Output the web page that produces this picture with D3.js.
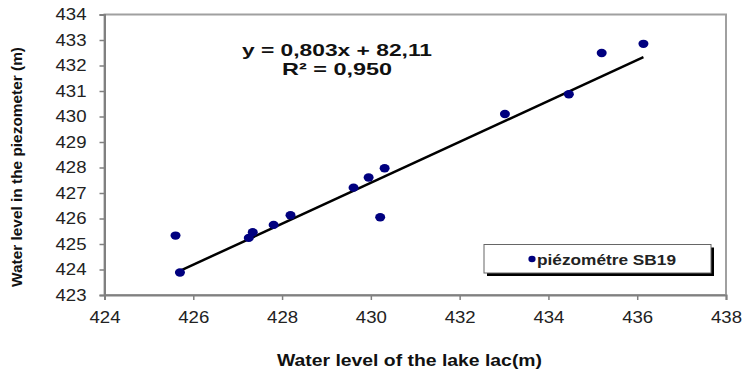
<!DOCTYPE html>
<html>
<head>
<meta charset="utf-8">
<script src="https://cdn.jsdelivr.net/npm/d3@7"></script>
<style>
  body { margin: 0; background: #fff; }
  text { font-family: "Liberation Sans", Arial, sans-serif; }
</style>
</head>
<body>
<div id="chart"></div>
<script>
// lake level vs piezometer level, station SB19
const lakeLevel  = [425.60, 425.70, 427.25, 427.34, 427.81, 428.19, 429.61, 429.95, 430.31, 430.21, 433.02, 434.46, 435.20, 436.14];
const piezoLevel = [425.33, 423.88, 425.24, 425.46, 425.75, 426.13, 427.21, 427.61, 427.97, 426.05, 430.10, 430.87, 432.49, 432.85];
const xTicks = [424, 426, 428, 430, 432, 434, 436, 438];
const yTicks = [423, 424, 425, 426, 427, 428, 429, 430, 431, 432, 433, 434];
const slope = 0.803;
const intercept = 82.11;
const equationLabel = "y = 0,803x + 82,11";
const r2Label = "R² = 0,950";
const seriesName = "piézométre SB19";

const width = 742, height = 372;
const margin = {left: 104.5, right: 16, top: 14.5, bottom: 77};

const svg = d3.select("#chart")
    .append("svg")
    .attr("width", width)
    .attr("height", height);

const x = d3.scaleLinear()
    .domain([424, 438])
    .range([margin.left, width - margin.right]);
const y = d3.scaleLinear()
    .domain([423, 434])
    .range([height - margin.bottom, margin.top]);

// plot frame (top / right in light grey)
svg.append("rect")
    .attr("x", x(424))
    .attr("y", y(434))
    .attr("width", x(438) - x(424))
    .attr("height", y(423) - y(434))
    .style("fill", "none")
    .style("stroke", "#a0a0a0")
    .style("stroke-width", 2);

const xAxis = svg.append("g")
    .attr("transform", `translate(0,${y(423)})`)
    .call(d3.axisBottom(x).tickValues(xTicks).tickSize(5).tickPadding(11.5).tickFormat(d3.format("d")));
const yAxis = svg.append("g")
    .attr("transform", `translate(${x(424)},0)`)
    .call(d3.axisLeft(y).tickValues(yTicks).tickSize(5).tickPadding(13).tickFormat(d3.format("d")));

[xAxis, yAxis].forEach(function(ax){
    ax.select(".domain").style("stroke", "#808080").style("stroke-width", 2);
    ax.selectAll(".tick line").style("stroke", "#808080").style("stroke-width", 1.5);
    ax.selectAll(".tick text")
        .style("font-family", "'Liberation Sans', Arial, sans-serif")
        .style("font-size", "16px")
        .style("fill", "#222")
        .attr("textLength", 31)
        .attr("lengthAdjust", "spacingAndGlyphs");
});

// trend line from the fitted equation
const xMin = d3.min(lakeLevel), xMax = d3.max(lakeLevel);
svg.append("line")
    .attr("x1", x(xMin))
    .attr("y1", y(slope * xMin + intercept))
    .attr("x2", x(xMax))
    .attr("y2", y(slope * xMax + intercept))
    .style("stroke", "#000")
    .style("stroke-width", 2.5);

svg.selectAll(".pt")
    .data(lakeLevel)
    .enter()
    .append("ellipse")
    .attr("class", "pt")
    .attr("cx", d => x(d))
    .attr("cy", (d, i) => y(piezoLevel[i]))
    .attr("rx", 5)
    .attr("ry", 4.2)
    .style("fill", "#00007f");

// equation text
svg.append("text")
    .attr("x", 337)
    .attr("y", 56)
    .attr("text-anchor", "middle")
    .attr("textLength", 190)
    .attr("lengthAdjust", "spacingAndGlyphs")
    .style("font-size", "17px")
    .style("font-weight", "bold")
    .style("fill", "#111")
    .text(equationLabel);
svg.append("text")
    .attr("x", 337)
    .attr("y", 75)
    .attr("text-anchor", "middle")
    .attr("textLength", 110)
    .attr("lengthAdjust", "spacingAndGlyphs")
    .style("font-size", "17px")
    .style("font-weight", "bold")
    .style("fill", "#111")
    .text(r2Label);

// legend with drop shadow
const legend = svg.append("g");
legend.append("rect")
    .attr("x", 487)
    .attr("y", 247.5)
    .attr("width", 227)
    .attr("height", 28.5)
    .style("fill", "#000");
legend.append("rect")
    .attr("x", 484)
    .attr("y", 244.5)
    .attr("width", 227)
    .attr("height", 28.5)
    .style("fill", "#fff")
    .style("stroke", "#666")
    .style("stroke-width", 1);
legend.append("ellipse")
    .attr("cx", 532)
    .attr("cy", 259)
    .attr("rx", 3.6)
    .attr("ry", 3.2)
    .style("fill", "#00007f");
legend.append("text")
    .attr("x", 537)
    .attr("y", 264.5)
    .attr("textLength", 139)
    .attr("lengthAdjust", "spacingAndGlyphs")
    .style("font-size", "15px")
    .style("font-weight", "bold")
    .style("fill", "#222")
    .text(seriesName);

// axis titles
svg.append("text")
    .attr("x", 409.5)
    .attr("y", 366)
    .attr("text-anchor", "middle")
    .attr("textLength", 265)
    .attr("lengthAdjust", "spacingAndGlyphs")
    .style("font-size", "16px")
    .style("font-weight", "bold")
    .style("fill", "#111")
    .text("Water level of the lake lac(m)");
svg.append("text")
    .attr("transform", "translate(21.5,167) rotate(-90)")
    .attr("text-anchor", "middle")
    .attr("textLength", 240)
    .attr("lengthAdjust", "spacingAndGlyphs")
    .style("font-size", "15.5px")
    .style("font-weight", "bold")
    .style("fill", "#111")
    .text("Water level in the piezometer (m)");
</script>
</body>
</html>
